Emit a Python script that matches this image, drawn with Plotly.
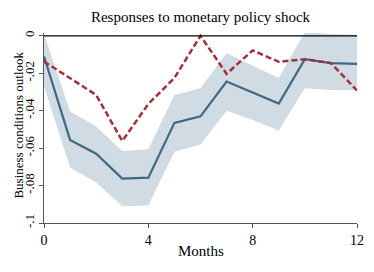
import plotly.graph_objects as go

months = list(range(13))
response = [-0.011, -0.0556, -0.063, -0.0763, -0.0758, -0.0465, -0.043, -0.0244, -0.0303, -0.0362, -0.0125, -0.0146, -0.015]
ci_upper = [0.001, -0.0405, -0.0485, -0.0615, -0.0606, -0.0316, -0.028, -0.0093, -0.016, -0.0226, 0.002, 0.001, 0.0005]
ci_lower = [-0.027, -0.0704, -0.0784, -0.091, -0.0906, -0.0619, -0.058, -0.040, -0.045, -0.0506, -0.028, -0.029, -0.029]
alt_response = [-0.0137, -0.0225, -0.0316, -0.0562, -0.0364, -0.0225, 0.0, -0.0203, -0.0078, -0.0139, -0.0125, -0.0146, -0.0292]

x_ticks = [0, 4, 8, 12]
y_ticks = [0, -0.02, -0.04, -0.06, -0.08, -0.1]
y_tick_labels = ["0", "-.02", "-.04", "-.06", "-.08", "-.1"]

FONT = "Liberation Serif"

fig = go.Figure()
fig.add_trace(go.Scatter(x=months, y=ci_lower, mode="lines", line=dict(width=0, color="#d1dbe3"),
                         hoverinfo="skip", showlegend=False))
fig.add_trace(go.Scatter(x=months, y=ci_upper, mode="lines", line=dict(width=0, color="#d1dbe3"),
                         fill="tonexty", fillcolor="#d1dbe3", hoverinfo="skip", showlegend=False))
fig.add_trace(go.Scatter(x=months, y=response, mode="lines", line=dict(color="#3f6882", width=2.2),
                         showlegend=False))
fig.add_trace(go.Scatter(x=months, y=alt_response, mode="lines",
                         line=dict(color="#9e323b", width=2.5, dash="6px,3px"), showlegend=False))

fig.add_shape(type="line", xref="x", yref="y", x0=0, x1=12, y0=0, y1=0,
              line=dict(color="black", width=1.3), layer="above")

fig.update_layout(
    width=374, height=272,
    margin=dict(l=44, r=10, t=33, b=49),
    paper_bgcolor="white", plot_bgcolor="white",
    font=dict(family=FONT, color="black", size=13),
    title=dict(text="Responses to monetary policy shock", x=0.5, xref="paper",
               y=1 - 17 / 272, yanchor="middle", font=dict(family=FONT, size=15, color="black")),
    xaxis=dict(range=[0, 12], tickvals=x_ticks, ticktext=[str(v) for v in x_ticks],
               showgrid=False, zeroline=False, showline=True, linecolor="#555", linewidth=1,
               ticks="outside", ticklen=4, tickcolor="#555",
               tickfont=dict(family=FONT, size=14, color="black")),
    yaxis=dict(range=[-0.1, 0.0015], tickvals=y_ticks, ticktext=y_tick_labels, tickangle=-90,
               showgrid=False, zeroline=False, showline=True, linecolor="#555", linewidth=1,
               ticks="outside", ticklen=4, tickcolor="#555",
               tickfont=dict(family=FONT, size=13, color="black")),
    annotations=[
        dict(text="Business conditions outlook", xref="paper", yref="paper",
             x=(18 - 44) / 320, y=(223 - 125) / 190, textangle=-90, showarrow=False,
             xanchor="center", yanchor="middle", font=dict(family=FONT, size=13, color="black")),
        dict(text="Months", xref="paper", yref="paper", x=0.5, y=-(251 - 223) / 190,
             showarrow=False, xanchor="center", yanchor="middle",
             font=dict(family=FONT, size=15, color="black")),
    ],
)

fig.write_html("out.html", config={"displayModeBar": False},
               post_script="document.body.style.margin='0';document.body.style.overflow='hidden';")
